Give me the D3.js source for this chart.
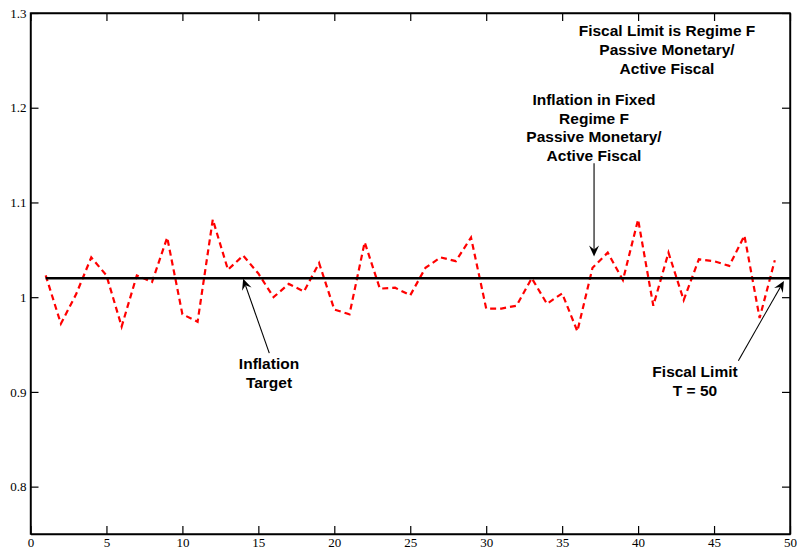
<!DOCTYPE html>
<html><head><meta charset="utf-8">
<script src="https://cdn.jsdelivr.net/npm/d3@7"></script>
<style>html,body{margin:0;padding:0;background:#fff;}</style>
</head><body>
<svg id="chart" width="797" height="551"></svg>
<script>
// ---- data ----
const periods = [1,2,3,4,5,6,7,8,9,10,11,12,13,14,15,16,17,18,19,20,21,22,23,24,25,
                 26,27,28,29,30,31,32,33,34,35,36,37,38,39,40,41,42,43,44,45,46,47,48,49];
const inflation = [1.023,0.972,1.003,1.042,1.023,0.969,1.023,1.016,1.063,0.982,
                   0.974,1.082,1.029,1.044,1.025,1.000,1.014,1.006,1.036,0.987,
                   0.982,1.058,1.009,1.010,1.002,1.031,1.042,1.038,1.063,0.988,
                   0.988,0.991,1.020,0.993,1.004,0.964,1.031,1.047,1.018,1.082,
                   0.991,1.047,0.997,1.040,1.038,1.033,1.065,0.978,1.039];
const targetPeriods = [1, 50];
const targetValues = [1.02, 1.02];
const xTicks = [0,5,10,15,20,25,30,35,40,45,50];
const yTicks = [0.8,0.9,1.0,1.1,1.2,1.3];
const yTickLabels = ["0.8","0.9","1","1.1","1.2","1.3"];
const noteFiscalRegime = ["Fiscal Limit is Regime F","Passive Monetary/","Active Fiscal"];
const noteFixed = ["Inflation in Fixed","Regime F","Passive Monetary/","Active Fiscal"];
const noteTarget = ["Inflation","Target"];
const noteLimit = ["Fiscal Limit","T = 50"];

// ---- layout ----
const svg = d3.select("#chart");
const L = 30.5, R = 790, T = 13, B = 534;
const x = d3.scaleLinear().domain([0,50]).range([L,R]);
const y = d3.scaleLinear().domain([0.75,1.3]).range([B,T]);

const tickFont = "'Liberation Serif', 'Times New Roman', serif";
const noteFont = "'Liberation Sans', Arial, sans-serif";

// axes (inward ticks, box)
const axB = svg.append("g").attr("transform",`translate(0,${B})`)
  .call(d3.axisBottom(x).tickValues(xTicks).tickSizeInner(-8).tickSizeOuter(0).tickPadding(4).tickFormat(d3.format("d")));
const axT = svg.append("g").attr("transform",`translate(0,${T})`)
  .call(d3.axisTop(x).tickValues(xTicks).tickSizeInner(-8).tickSizeOuter(0).tickFormat(""));
const axL = svg.append("g").attr("transform",`translate(${L},0)`)
  .call(d3.axisLeft(y).tickValues(yTicks).tickSizeInner(-8).tickSizeOuter(0).tickPadding(4)
        .tickFormat((d,i)=>yTickLabels[i]));
const axR = svg.append("g").attr("transform",`translate(${R},0)`)
  .call(d3.axisRight(y).tickValues(yTicks).tickSizeInner(-8).tickSizeOuter(0).tickFormat(""));
[axB,axT,axL,axR].forEach(g=>{
  g.select(".domain").attr("stroke","#000").attr("stroke-width",1.4);
  g.selectAll(".tick line").attr("stroke","#000").attr("stroke-width",1.2);
  g.selectAll(".tick text").attr("fill","#000").style("font-family",tickFont).style("font-size","13px");
});
axB.selectAll(".tick text").attr("dy","0.71em");
axL.selectAll(".tick text").attr("dy","0.32em");
svg.append("rect").attr("x",L).attr("y",T).attr("width",R-L).attr("height",B-T)
  .attr("fill","none").attr("stroke","#000").attr("stroke-width",1.4);

// series
const line = d3.line().x(d=>x(d[0])).y(d=>y(d[1]));
svg.append("path")
  .datum(periods.map((p,i)=>[p,inflation[i]]))
  .attr("d",line).attr("fill","none").attr("stroke","#ff0000")
  .attr("stroke-width",2.2).attr("stroke-dasharray","6,4");
svg.append("path")
  .datum(targetPeriods.map((p,i)=>[p,targetValues[i]]))
  .attr("d",line).attr("fill","none").attr("stroke","#000").attr("stroke-width",2.6);

// annotations
function textBlock(lines, cx, baseline, lh){
  const t = svg.append("text").attr("text-anchor","middle")
    .style("font-family",noteFont).style("font-weight","bold").style("font-size","15.5px").attr("fill","#000");
  lines.forEach((s,i)=>t.append("tspan").attr("x",cx).attr("y",baseline+i*lh).text(s));
}
function arrow(x1,y1,x2,y2){
  const dx=x2-x1, dy=y2-y1, len=Math.hypot(dx,dy), ux=dx/len, uy=dy/len;
  const hl=11, hw=5, notch=7;
  const bx=x2-ux*hl, by=y2-uy*hl, nx=x2-ux*notch, ny=y2-uy*notch;
  svg.append("line").attr("x1",x1).attr("y1",y1).attr("x2",nx).attr("y2",ny)
    .attr("stroke","#000").attr("stroke-width",1.1);
  const p = [[x2,y2],[bx-uy*hw,by+ux*hw],[nx,ny],[bx+uy*hw,by-ux*hw]];
  svg.append("path").attr("d","M"+p.map(q=>q.join(",")).join("L")+"Z").attr("fill","#000");
}
textBlock(noteFiscalRegime, 667, 36, 19);
textBlock(noteFixed, 594, 105, 18.5);
textBlock(noteTarget, 269, 369, 18.5);
textBlock(noteLimit, 695, 377, 19);

arrow(x(15.72), y(0.941), x(14.0), y(1.0195));
arrow(x(37.1), y(1.1413), x(37.1), y(1.043));
arrow(x(46.6), y(0.933), x(49.6), y(1.0172));
</script>
</body></html>
